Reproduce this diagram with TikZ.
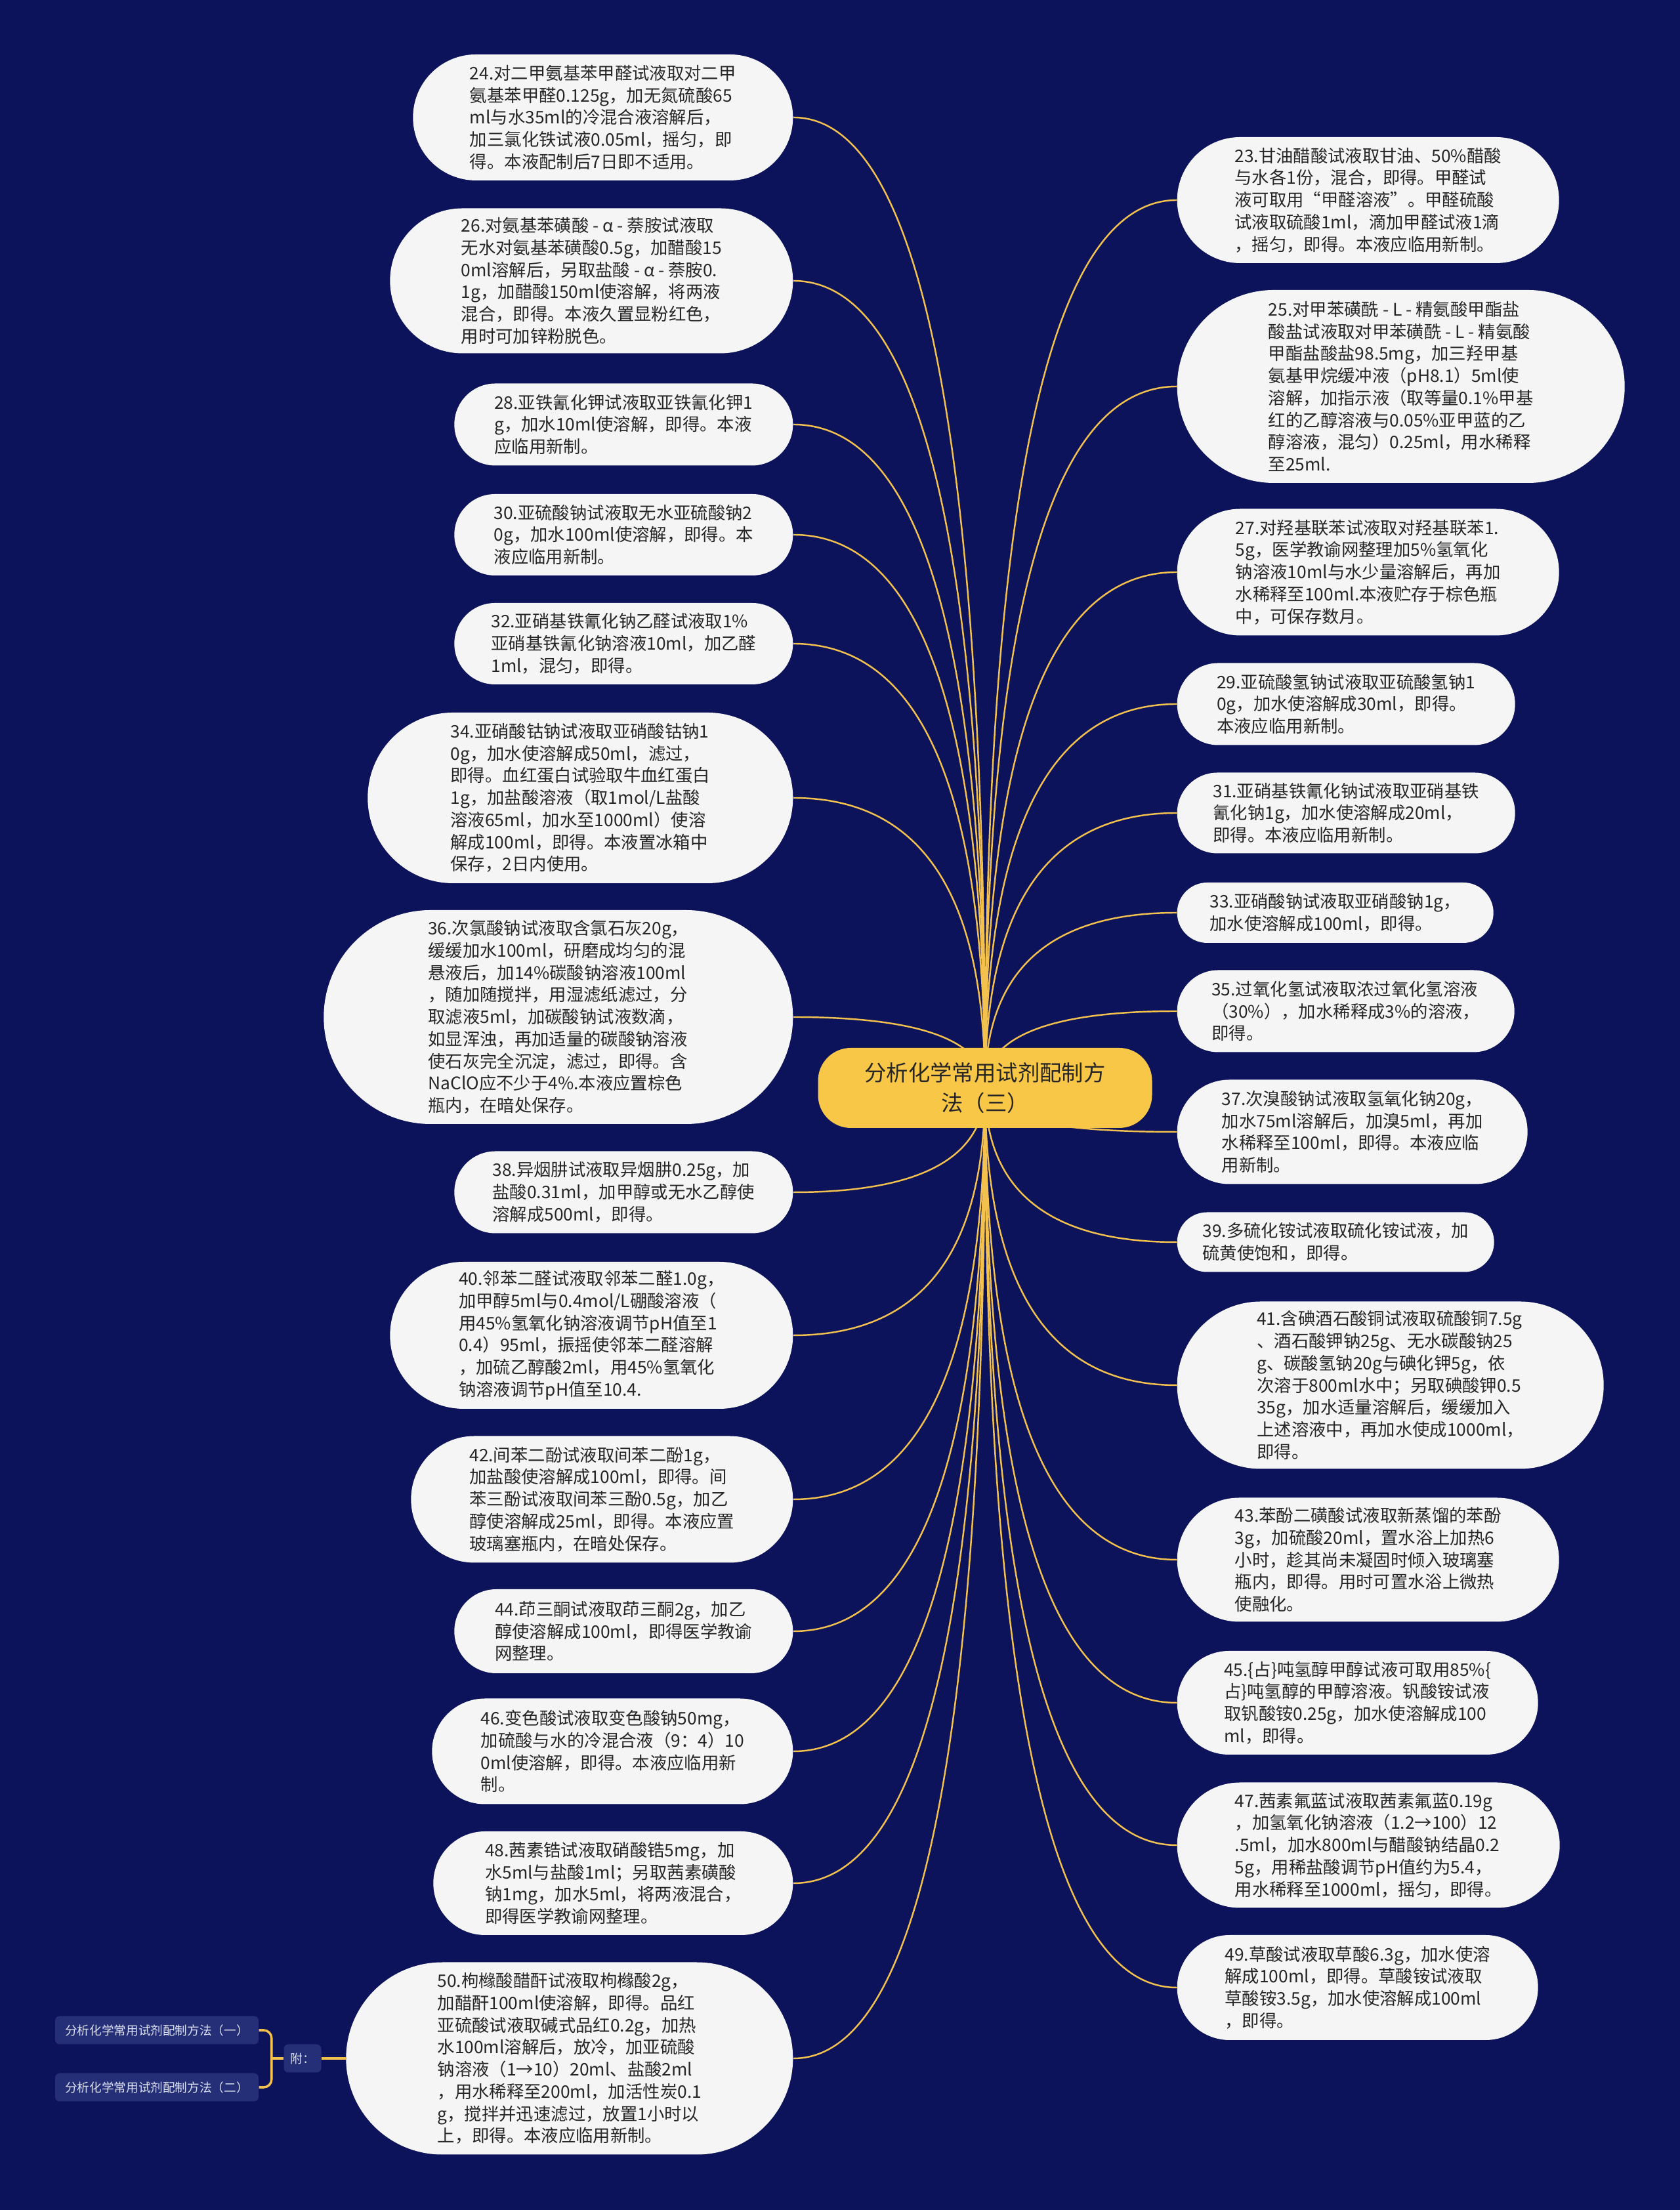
\documentclass[tikz,border=0pt]{standalone}
\usepackage{fontspec}
\usepackage{xcolor}
\usepackage{tikz}
\usetikzlibrary{calc,backgrounds}
\newfontfamily\cjk{Noto Sans CJK SC}

\definecolor{navy}{HTML}{0C135B}
\definecolor{boxgrey}{HTML}{F5F5F5}
\definecolor{ink}{HTML}{262626}
\definecolor{gold}{HTML}{F8C748}
\definecolor{goldline}{HTML}{F2C14E}
\definecolor{tagblue}{HTML}{252F78}
\definecolor{tagink}{HTML}{DCE0F0}

\begin{document}
\begin{tikzpicture}[
  box/.style={fill=boxgrey, text=ink, minimum height=#1, rounded corners=0.5*#1, align=left, inner sep=0pt, font=\cjk\fontsize{7.5}{9.6}\selectfont},
  lbox/.style={box=#1, anchor=east},
  rbox/.style={box=#1, anchor=west},
  topic/.style={fill=gold, text=ink, rounded corners=0.5cm, minimum width=5.09cm, minimum height=1.22cm, align=center, inner sep=0pt, font=\cjk\fontsize{9.5}{13}\selectfont},
  tag/.style={fill=tagblue, text=tagink, rounded corners=0.07cm, minimum height=0.43cm, inner sep=0pt, font=\cjk\fontsize{5.3}{6}\selectfont},
  link/.style={goldline, line width=0.7pt, to path={.. controls ($(\tikztostart)!0.667!(\tikztostart |- \tikztotarget)$) and ($(\tikztotarget)!0.667!(\tikztostart |- \tikztotarget)$) .. (\tikztotarget)}},
  brace/.style={goldline, line width=1pt, rounded corners=0.12cm},
]
\node[topic] (root) at (15.01,17.10) {分析化学常用试剂配制方\\法（三）};

% left column
\node[lbox=1.92cm, minimum width=5.79cm] (n24) at (12.09,31.89) {24.对二甲氨基苯甲醛试液取对二甲\\氨基苯甲醛0.125g，加无氮硫酸65\\ml与水35ml的冷混合液溶解后，\\加三氯化铁试液0.05ml，摇匀，即\\得。本液配制后7日即不适用。};
\node[lbox=2.21cm, minimum width=6.14cm] (n26) at (12.09,29.40) {26.对氨基苯磺酸 - α - 萘胺试液取\\无水对氨基苯磺酸0.5g，加醋酸15\\0ml溶解后，另取盐酸 - α - 萘胺0.\\1g，加醋酸150ml使溶解，将两液\\混合，即得。本液久置显粉红色，\\用时可加锌粉脱色。};
\node[lbox=1.25cm, minimum width=5.16cm] (n28) at (12.09,27.21) {28.亚铁氰化钾试液取亚铁氰化钾1\\g，加水10ml使溶解，即得。本液\\应临用新制。};
\node[lbox=1.24cm, minimum width=5.16cm] (n30) at (12.09,25.53) {30.亚硫酸钠试液取无水亚硫酸钠2\\0g，加水100ml使溶解，即得。本\\液应临用新制。};
\node[lbox=1.24cm, minimum width=5.16cm] (n32) at (12.09,23.87) {32.亚硝基铁氰化钠乙醛试液取1\%\\亚硝基铁氰化钠溶液10ml，加乙醛\\1ml，混匀，即得。};
\node[lbox=2.60cm, minimum width=6.48cm] (n34) at (12.09,21.52) {34.亚硝酸钴钠试液取亚硝酸钴钠1\\0g，加水使溶解成50ml，滤过，\\即得。血红蛋白试验取牛血红蛋白\\1g，加盐酸溶液（取1mol/L盐酸\\溶液65ml，加水至1000ml）使溶\\解成100ml，即得。本液置冰箱中\\保存，2日内使用。};
\node[lbox=3.26cm, minimum width=7.15cm] (n36) at (12.09,18.18) {36.次氯酸钠试液取含氯石灰20g，\\缓缓加水100ml，研磨成均匀的混\\悬液后，加14\%碳酸钠溶液100ml\\，随加随搅拌，用湿滤纸滤过，分\\取滤液5ml，加碳酸钠试液数滴，\\如显浑浊，再加适量的碳酸钠溶液\\使石灰完全沉淀，滤过，即得。含\\NaClO应不少于4\%.本液应置棕色\\瓶内，在暗处保存。};
\node[lbox=1.25cm, minimum width=5.16cm] (n38) at (12.09,15.51) {38.异烟肼试液取异烟肼0.25g，加\\盐酸0.31ml，加甲醇或无水乙醇使\\溶解成500ml，即得。};
\node[lbox=2.24cm, minimum width=6.14cm] (n40) at (12.09,13.33) {40.邻苯二醛试液取邻苯二醛1.0g，\\加甲醇5ml与0.4mol/L硼酸溶液（\\用45\%氢氧化钠溶液调节pH值至1\\0.4）95ml，振摇使邻苯二醛溶解\\，加硫乙醇酸2ml，用45\%氢氧化\\钠溶液调节pH值至10.4.};
\node[lbox=1.93cm, minimum width=5.82cm] (n42) at (12.09,10.83) {42.间苯二酚试液取间苯二酚1g，\\加盐酸使溶解成100ml，即得。间\\苯三酚试液取间苯三酚0.5g，加乙\\醇使溶解成25ml，即得。本液应置\\玻璃塞瓶内，在暗处保存。};
\node[lbox=1.28cm, minimum width=5.16cm] (n44) at (12.09,8.82) {44.茚三酮试液取茚三酮2g，加乙\\醇使溶解成100ml，即得医学教谕\\网整理。};
\node[lbox=1.61cm, minimum width=5.50cm] (n46) at (12.09,6.99) {46.变色酸试液取变色酸钠50mg，\\加硫酸与水的冷混合液（9：4）10\\0ml使溶解，即得。本液应临用新\\制。};
\node[lbox=1.58cm, minimum width=5.48cm] (n48) at (12.09,4.98) {48.茜素锆试液取硝酸锆5mg，加\\水5ml与盐酸1ml；另取茜素磺酸\\钠1mg，加水5ml，将两液混合，\\即得医学教谕网整理。};
\node[lbox=2.93cm, minimum width=6.81cm] (n50) at (12.09,2.31) {50.枸橼酸醋酐试液取枸橼酸2g，\\加醋酐100ml使溶解，即得。品红\\亚硫酸试液取碱式品红0.2g，加热\\水100ml溶解后，放冷，加亚硫酸\\钠溶液（1→10）20ml、盐酸2ml\\，用水稀释至200ml，加活性炭0.1\\g，搅拌并迅速滤过，放置1小时以\\上，即得。本液应临用新制。};

% right column
\node[rbox=1.92cm, minimum width=5.82cm] (n23) at (17.93,30.63) {23.甘油醋酸试液取甘油、50\%醋酸\\与水各1份，混合，即得。甲醛试\\液可取用“甲醛溶液”。甲醛硫酸\\试液取硫酸1ml，滴加甲醛试液1滴\\，摇匀，即得。本液应临用新制。};
\node[rbox=2.94cm, minimum width=6.82cm] (n25) at (17.93,27.79) {25.对甲苯磺酰 - L - 精氨酸甲酯盐\\酸盐试液取对甲苯磺酰 - L - 精氨酸\\甲酯盐酸盐98.5mg，加三羟甲基\\氨基甲烷缓冲液（pH8.1）5ml使\\溶解，加指示液（取等量0.1\%甲基\\红的乙醇溶液与0.05\%亚甲蓝的乙\\醇溶液，混匀）0.25ml，用水稀释\\至25ml.};
\node[rbox=1.93cm, minimum width=5.82cm] (n27) at (17.93,24.96) {27.对羟基联苯试液取对羟基联苯1.\\5g，医学教谕网整理加5\%氢氧化\\钠溶液10ml与水少量溶解后，再加\\水稀释至100ml.本液贮存于棕色瓶\\中，可保存数月。};
\node[rbox=1.25cm, minimum width=5.15cm] (n29) at (17.93,22.95) {29.亚硫酸氢钠试液取亚硫酸氢钠1\\0g，加水使溶解成30ml，即得。\\本液应临用新制。};
\node[rbox=1.23cm, minimum width=5.15cm] (n31) at (17.93,21.29) {31.亚硝基铁氰化钠试液取亚硝基铁\\氰化钠1g，加水使溶解成20ml，\\即得。本液应临用新制。};
\node[rbox=0.92cm, minimum width=4.82cm] (n33) at (17.93,19.77) {33.亚硝酸钠试液取亚硝酸钠1g，\\加水使溶解成100ml，即得。};
\node[rbox=1.25cm, minimum width=5.14cm] (n35) at (17.93,18.27) {35.过氧化氢试液取浓过氧化氢溶液\\（30\%），加水稀释成3\%的溶液，\\即得。};
\node[rbox=1.59cm, minimum width=5.34cm] (n37) at (17.93,16.43) {37.次溴酸钠试液取氢氧化钠20g，\\加水75ml溶解后，加溴5ml，再加\\水稀释至100ml，即得。本液应临\\用新制。};
\node[rbox=0.91cm, minimum width=4.83cm] (n39) at (17.93,14.75) {39.多硫化铵试液取硫化铵试液，加\\硫黄使饱和，即得。};
\node[rbox=2.55cm, minimum width=6.50cm] (n41) at (17.93,12.57) {41.含碘酒石酸铜试液取硫酸铜7.5g\\、酒石酸钾钠25g、无水碳酸钠25\\g、碳酸氢钠20g与碘化钾5g，依\\次溶于800ml水中；另取碘酸钾0.5\\35g，加水适量溶解后，缓缓加入\\上述溶液中，再加水使成1000ml，\\即得。};
\node[rbox=1.89cm, minimum width=5.82cm] (n43) at (17.93,9.91) {43.苯酚二磺酸试液取新蒸馏的苯酚\\3g，加硫酸20ml，置水浴上加热6\\小时，趁其尚未凝固时倾入玻璃塞\\瓶内，即得。用时可置水浴上微热\\使融化。};
\node[rbox=1.58cm, minimum width=5.50cm] (n45) at (17.93,7.73) {45.\{占\}吨氢醇甲醇试液可取用85\%\{\\占\}吨氢醇的甲醇溶液。钒酸铵试液\\取钒酸铵0.25g，加水使溶解成100\\ml，即得。};
\node[rbox=1.91cm, minimum width=5.83cm] (n47) at (17.93,5.56) {47.茜素氟蓝试液取茜素氟蓝0.19g\\，加氢氧化钠溶液（1.2→100）12\\.5ml，加水800ml与醋酸钠结晶0.2\\5g，用稀盐酸调节pH值约为5.4，\\用水稀释至1000ml，摇匀，即得。};
\node[rbox=1.60cm, minimum width=5.50cm] (n49) at (17.93,3.39) {49.草酸试液取草酸6.3g，加水使溶\\解成100ml，即得。草酸铵试液取\\草酸铵3.5g，加水使溶解成100ml\\，即得。};

% appendix
\node[tag, minimum width=0.57cm] (fu) at (4.61,2.31) {附：};
\node[tag, minimum width=3.10cm] (ref1) at (2.39,2.74) {分析化学常用试剂配制方法（一）};
\node[tag, minimum width=3.10cm] (ref2) at (2.39,1.87) {分析化学常用试剂配制方法（二）};
\coordinate (fork) at ($(fu.west)+(-0.18,0)$);
\draw[brace] (ref1.east) -| (fork);
\draw[brace] (ref2.east) -| (fork);
\draw[brace] (fork) -- (fu.west);
\draw[brace] (fu.east) -- (n50.west);

\begin{scope}[on background layer]
\fill[navy] (0,0) rectangle (25.6,33.68);
\draw[link] (root.center) to (n24.east);
\draw[link] (root.center) to (n26.east);
\draw[link] (root.center) to (n28.east);
\draw[link] (root.center) to (n30.east);
\draw[link] (root.center) to (n32.east);
\draw[link] (root.center) to (n34.east);
\draw[link] (root.center) to (n36.east);
\draw[link] (root.center) to (n38.east);
\draw[link] (root.center) to (n40.east);
\draw[link] (root.center) to (n42.east);
\draw[link] (root.center) to (n44.east);
\draw[link] (root.center) to (n46.east);
\draw[link] (root.center) to (n48.east);
\draw[link] (root.center) to (n50.east);
\draw[link] (root.center) to (n23.west);
\draw[link] (root.center) to (n25.west);
\draw[link] (root.center) to (n27.west);
\draw[link] (root.center) to (n29.west);
\draw[link] (root.center) to (n31.west);
\draw[link] (root.center) to (n33.west);
\draw[link] (root.center) to (n35.west);
\draw[link] (root.center) to (n37.west);
\draw[link] (root.center) to (n39.west);
\draw[link] (root.center) to (n41.west);
\draw[link] (root.center) to (n43.west);
\draw[link] (root.center) to (n45.west);
\draw[link] (root.center) to (n47.west);
\draw[link] (root.center) to (n49.west);
\end{scope}
\end{tikzpicture}
\end{document}
